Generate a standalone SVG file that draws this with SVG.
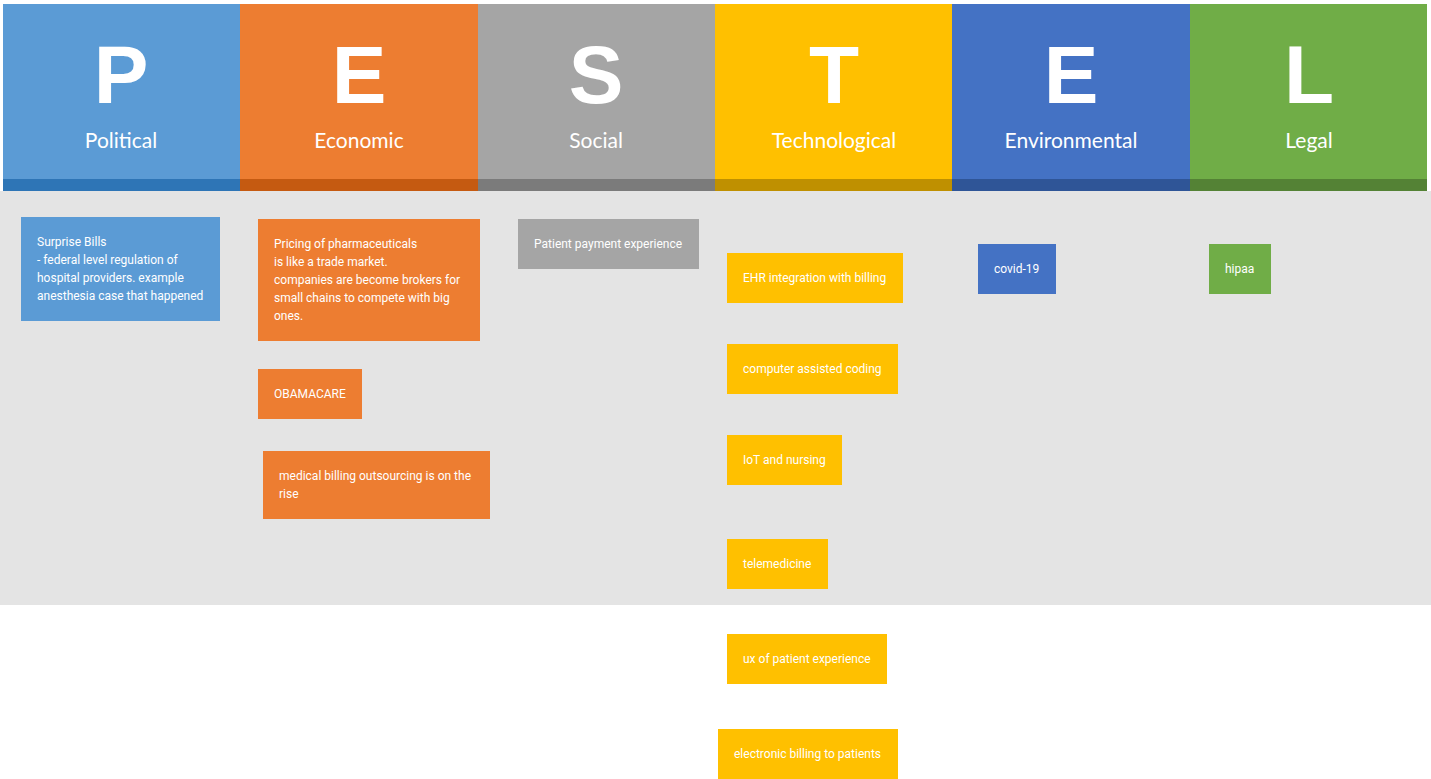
<svg xmlns="http://www.w3.org/2000/svg" width="1431" height="779" viewBox="0 0 1431 779">
<style>
.big{font-family:"Liberation Sans",Arial,sans-serif;font-weight:bold;font-size:82px;fill:#fff;text-anchor:middle}
.lab{font-family:Lato,"Open Sans",sans-serif;font-size:21px;fill:#fff;text-anchor:middle}
.note{font-family:Roboto,"Liberation Sans",sans-serif;font-size:12px;fill:#fff}
</style>
<rect x="0" y="0" width="1431" height="779" fill="#ffffff"/>
<rect x="0" y="191" width="1431" height="414" fill="#e4e4e4"/>
<g id="header">
<g id="col-P"><rect x="3" y="4" width="237" height="187" fill="#5B9BD5"/><rect x="3" y="179" width="237" height="12" fill="#2E75B6"/><text class="big" x="121" y="103">P</text><text class="lab" x="121" y="148">Political</text></g>
<g id="col-E1"><rect x="240" y="4" width="238" height="187" fill="#ED7D31"/><rect x="240" y="179" width="238" height="12" fill="#C55A11"/><text class="big" x="359" y="103">E</text><text class="lab" x="359" y="148">Economic</text></g>
<g id="col-S"><rect x="478" y="4" width="237" height="187" fill="#A5A5A5"/><rect x="478" y="179" width="237" height="12" fill="#7B7B7B"/><text class="big" x="596" y="103">S</text><text class="lab" x="596" y="148">Social</text></g>
<g id="col-T"><rect x="715" y="4" width="237" height="187" fill="#FFC000"/><rect x="715" y="179" width="237" height="12" fill="#BF9000"/><text class="big" x="834" y="103">T</text><text class="lab" x="834" y="148">Technological</text></g>
<g id="col-E2"><rect x="952" y="4" width="238" height="187" fill="#4472C4"/><rect x="952" y="179" width="238" height="12" fill="#2F5597"/><text class="big" x="1071" y="103">E</text><text class="lab" x="1071" y="148">Environmental</text></g>
<g id="col-L"><rect x="1190" y="4" width="237" height="187" fill="#70AD47"/><rect x="1190" y="179" width="237" height="12" fill="#548235"/><text class="big" x="1309" y="103">L</text><text class="lab" x="1309" y="148">Legal</text></g>
</g>
<g id="connectors"></g>
<g id="n-surprise"><rect x="21" y="217" width="199" height="104" fill="#5B9BD5"/><text class="note" x="37" y="246">Surprise Bills</text><text class="note" x="37" y="264">- federal level regulation of</text><text class="note" x="37" y="282">hospital providers. example</text><text class="note" x="37" y="300">anesthesia case that happened</text></g>
<g id="n-pricing"><rect x="258" y="219" width="222" height="122" fill="#ED7D31"/><text class="note" x="274" y="248">Pricing of pharmaceuticals</text><text class="note" x="274" y="266">is like a trade market.</text><text class="note" x="274" y="284">companies are become brokers for</text><text class="note" x="274" y="302">small chains to compete with big</text><text class="note" x="274" y="320">ones.</text></g>
<g id="n-obamacare"><rect x="258" y="369" width="104" height="50" fill="#ED7D31"/><text class="note" x="274" y="398">OBAMACARE</text></g>
<g id="n-outsourcing"><rect x="263" y="451" width="227" height="68" fill="#ED7D31"/><text class="note" x="279" y="480">medical billing outsourcing is on the</text><text class="note" x="279" y="498">rise</text></g>
<g id="n-patient-payment"><rect x="518" y="219" width="181" height="50" fill="#A5A5A5"/><text class="note" x="534" y="248">Patient payment experience</text></g>
<g id="n-ehr"><rect x="727" y="253" width="176" height="50" fill="#FFC000"/><text class="note" x="743" y="282">EHR integration with billing</text></g>
<g id="n-cac"><rect x="727" y="344" width="171" height="50" fill="#FFC000"/><text class="note" x="743" y="373">computer assisted coding</text></g>
<g id="n-iot"><rect x="727" y="435" width="115" height="50" fill="#FFC000"/><text class="note" x="743" y="464">IoT and nursing</text></g>
<g id="n-tele"><rect x="727" y="539" width="101" height="50" fill="#FFC000"/><text class="note" x="743" y="568">telemedicine</text></g>
<g id="n-ux"><rect x="727" y="634" width="160" height="50" fill="#FFC000"/><text class="note" x="743" y="663">ux of patient experience</text></g>
<g id="n-ebilling"><rect x="718" y="729" width="180" height="50" fill="#FFC000"/><text class="note" x="734" y="758">electronic billing to patients</text></g>
<g id="n-covid"><rect x="978" y="244" width="78" height="50" fill="#4472C4"/><text class="note" x="994" y="273">covid-19</text></g>
<g id="n-hipaa"><rect x="1209" y="244" width="62" height="50" fill="#70AD47"/><text class="note" x="1225" y="273">hipaa</text></g>
</svg>
